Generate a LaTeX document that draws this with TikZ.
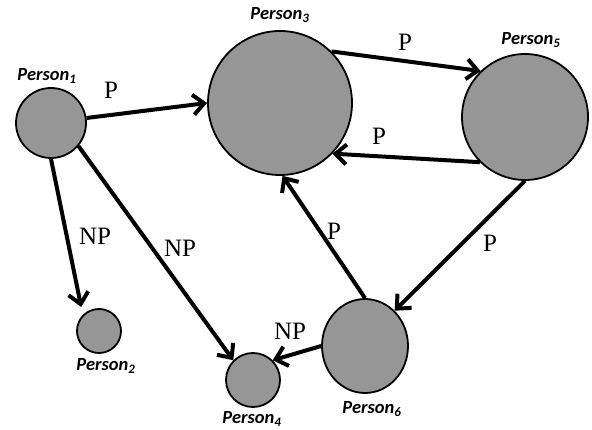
\documentclass[tikz,border=0pt]{standalone}
\usepackage{fontspec}
\setmainfont{Liberation Serif}
\newfontfamily\namefont{Carlito}
\usetikzlibrary{arrows.meta,shapes.geometric}
\definecolor{persongray}{RGB}{150,150,150}

\begin{document}
\begin{tikzpicture}[x=1pt, y=-1pt, >={Straight Barb[length=11pt,width=20pt]},
    person/.style={circle, draw=black, line width=1.8pt, fill=persongray, inner sep=0pt},
    pname/.style={inner sep=0pt, font=\namefont\bfseries\itshape\fontsize{18.5}{20}\selectfont},
    rel/.style={inner sep=0pt, font=\fontsize{25}{28}\selectfont},
    link/.style={->, line width=4pt}]

    %% Background
    \useasboundingbox (0,0) rectangle (592,430);

    %% Persons
    \node[person, minimum size=70pt] (p1) at (51,123) {};
    \node[person, minimum size=44pt] (p2) at (99,331) {};
    \node[person, minimum size=144pt] (p3) at (280,103) {};
    \node[person, minimum size=54pt] (p4) at (253,380) {};
    \node[person, minimum size=126pt] (p5) at (525,117) {};
    \node[person, ellipse, minimum width=86pt, minimum height=94pt] (p6) at (365,346) {};

    \node[pname] (n1) at (47,76) {Person\textsubscript{1}};
    \node[pname] (n2) at (106,366) {Person\textsubscript{2}};
    \node[pname] (n3) at (280,15) {Person\textsubscript{3}};
    \node[pname] (n4) at (252,419) {Person\textsubscript{4}};
    \node[pname] (n5) at (531,40) {Person\textsubscript{5}};
    \node[pname] (n6) at (372,409) {Person\textsubscript{6}};

    %% Links
    \draw[link] (p1.8) -- (p3.west);
    \draw[link] (p3.45) -- (p5.134);
    \draw[link] (p5.225) -- (p3.-44);
    \draw[link, shorten >=8pt] (p1.south) -- (p2.north west);
    \draw[link] (p1.-40) -- (p4.135);
    \draw[link] (p6.north) -- (p3.272);
    \draw[link] (p5.south) -- (p6.50);
    \draw[link] (p6.west) -- (p4.45);

    \node[rel] (r13) at (111,90) {P};
    \node[rel] (r35) at (405,42) {P};
    \node[rel] (r53) at (379,136) {P};
    \node[rel] (r12) at (95,236) {NP};
    \node[rel] (r14) at (180,248) {NP};
    \node[rel] (r63) at (334,231) {P};
    \node[rel] (r56) at (490,243) {P};
    \node[rel] (r64) at (290,331) {NP};

\end{tikzpicture}
\end{document}
